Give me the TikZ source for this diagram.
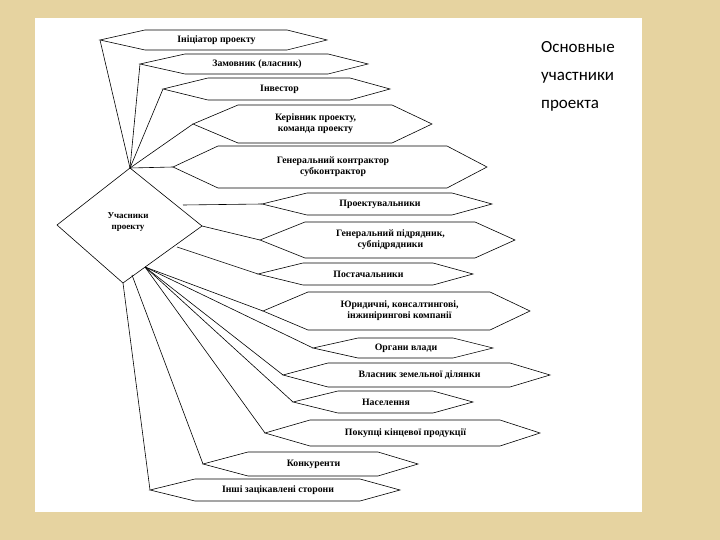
\documentclass[tikz,border=0pt]{standalone}
\usepackage{fontspec}
\setmainfont{Liberation Serif}
\newfontfamily\slidefont{Carlito}
\definecolor{bgc}{HTML}{E6D3A0}
\tikzset{hexline/.style={draw=black,line width=0.6pt},
 hextext/.style={font=\bfseries\fontsize{9.8}{11}\selectfont,align=center,inner sep=0pt},
 conn/.style={draw=black,line width=0.6pt}}
\newcommand{\hexa}[6]{%
 \coordinate (#1L) at (#2,#4);
 \coordinate (#1R) at (#3,#4);
 \draw[hexline] (#2,#4) -- (#2+45,#4-#5) -- (#3-40,#4-#5) -- (#3,#4) -- (#3-40,#4+#5) -- (#2+45,#4+#5) -- cycle;
 \node[hextext] (#1) at ({(#2+#3)/2+3},#4) {#6};}
\begin{document}
\begin{tikzpicture}[x=1pt,y=-1pt]
\useasboundingbox (0,0) rectangle (720,540);
\fill[bgc] (0,0) rectangle (720,540);
\fill[white] (35,18) rectangle (642,512);
\node[font=\slidefont\fontsize{17}{28}\selectfont,align=left,anchor=north west,inner sep=0pt] (title) at (541,41) {Основные\\участники\\проекта};
% diamond
\coordinate (dT) at (130,168);
\coordinate (dL) at (57,225);
\coordinate (dR) at (202,226);
\coordinate (dB) at (123,283);
\draw[hexline] (dT) -- (dR) -- (dB) -- (dL) -- cycle;
\node[hextext,font=\bfseries\fontsize{9}{10.5}\selectfont] (d) at (128,222) {Учасники\\проекту};
\hexa{h1}{100}{327}{40}{10}{Ініціатор проекту}
\hexa{h2}{140}{368}{64}{10}{Замовник (власник)}
\hexa{h3}{163}{390}{89}{11}{Інвестор}
\hexa{h4}{193}{432}{124}{19}{Керівник проекту,\\команда проекту}
\hexa{h5}{173}{487}{167}{21}{Генеральний контрактор\\субконтрактор}
\hexa{h6}{262}{492}{204}{11}{Проектувальники}
\hexa{h7}{260}{515}{240}{18}{Генеральний підрядник,\\субпідрядники}
\hexa{h8}{258}{473}{274}{11}{Постачальники}
\hexa{h9}{263}{530}{311}{19}{Юридичні, консалтингові,\\інжинірингові компанії}
\hexa{h10}{313}{493}{348}{10}{Органи влади}
\hexa{h11}{283}{550}{375}{12}{Власник земельної ділянки}
\hexa{h12}{293}{473}{402}{11}{Населення}
\hexa{h13}{265}{540}{433}{13}{Покупці кінцевої продукції}
\hexa{h14}{203}{418}{464}{12}{Конкуренти}
\hexa{h15}{150}{400}{490}{11}{Інші зацікавлені сторони}
\coordinate (p6) at (183,205);
\coordinate (p8) at (177,247);
\coordinate (pf) at (145,267);
\coordinate (pk) at (132,275);
\foreach \h in {h1,h2,h3,h4,h5} \draw[conn] (dT) -- (\h L);
\draw[conn] (p6) -- (h6L);
\draw[conn] (dR) -- (h7L);
\draw[conn] (p8) -- (h8L);
\foreach \h in {h9,h10,h11,h12,h13} \draw[conn] (pf) -- (\h L);
\draw[conn] (pk) -- (h14L);
\draw[conn] (dB) -- (h15L);
\end{tikzpicture}
\end{document}
